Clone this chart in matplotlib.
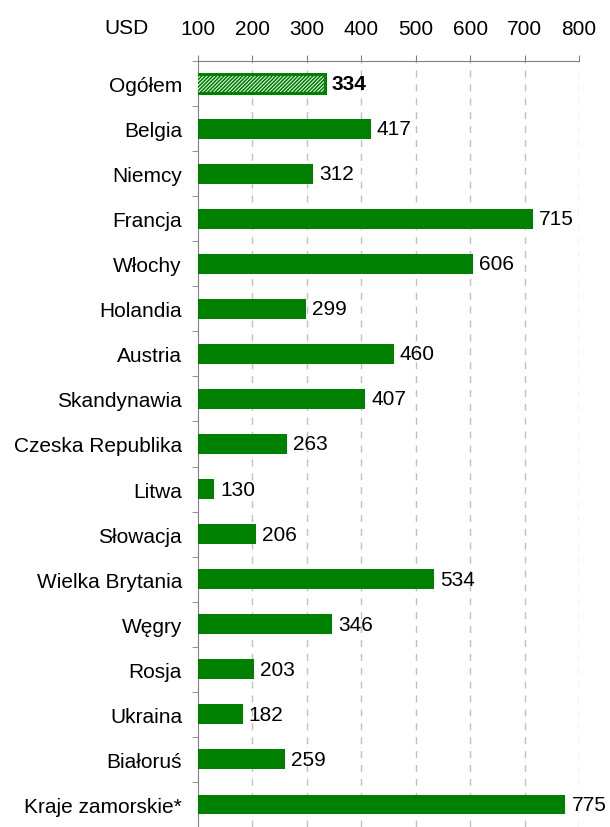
import numpy as np
import matplotlib.pyplot as plt

countries = ['Ogółem', 'Belgia', 'Niemcy', 'Francja', 'Włochy', 'Holandia',
             'Austria', 'Skandynawia', 'Czeska Republika', 'Litwa', 'Słowacja',
             'Wielka Brytania', 'Węgry', 'Rosja', 'Ukraina', 'Białoruś',
             'Kraje zamorskie*']
values = [334, 417, 312, 715, 606, 299, 460, 407, 263, 130, 206, 534, 346,
          203, 182, 259, 775]
xticks = [100, 200, 300, 400, 500, 600, 700, 800]

green = '#008000'
fs = 15
plt.rcParams['font.family'] = ['Liberation Sans', 'DejaVu Sans']
plt.rcParams['hatch.linewidth'] = 1.2

fig = plt.figure(figsize=(6.1, 8.28), dpi=100)
ax = fig.add_axes([198/610, 0.0, (579-198)/610, 1-62/828])

y = np.arange(len(countries))
h = 0.44
ax.barh(y[1:], values[1:], height=h, color=green, zorder=3)
ax.barh(y[0], values[0], height=h, facecolor='white', edgecolor=green,
        hatch='/////////', linewidth=2.2, zorder=3)

for i, v in enumerate(values):
    ax.text(v + 11, i, str(v), va='center', ha='left', fontsize=fs,
            fontweight='bold' if i == 0 else 'normal')

ax.set_xlim(100, 800)
ax.set_ylim(16.38, -0.47)
ax.xaxis.tick_top()
ax.set_xticks(xticks)
ax.tick_params(axis='x', direction='out', length=4, color='#808080',
               pad=12.5, labelsize=fs)
ax.set_yticks(y)
ax.set_yticklabels(countries)
ax.tick_params(axis='y', which='major', length=0, pad=11.5, labelsize=fs)
ax.set_yticks(np.arange(-0.5, len(countries), 1.0), minor=True)
ax.tick_params(axis='y', which='minor', direction='out', length=4,
               color='#808080')

for x in xticks[1:]:
    ax.axvline(x, color='#c0c0c0', linestyle=(0, (5, 5)), linewidth=1,
               zorder=1)

for s in ['right', 'bottom']:
    ax.spines[s].set_visible(False)
ax.spines['top'].set_color('#808080')
ax.spines['left'].set_color('#808080')

fig.text(127/610, 1-28/828, 'USD', ha='center', va='center', fontsize=fs)

plt.savefig('out.png', dpi=100)
